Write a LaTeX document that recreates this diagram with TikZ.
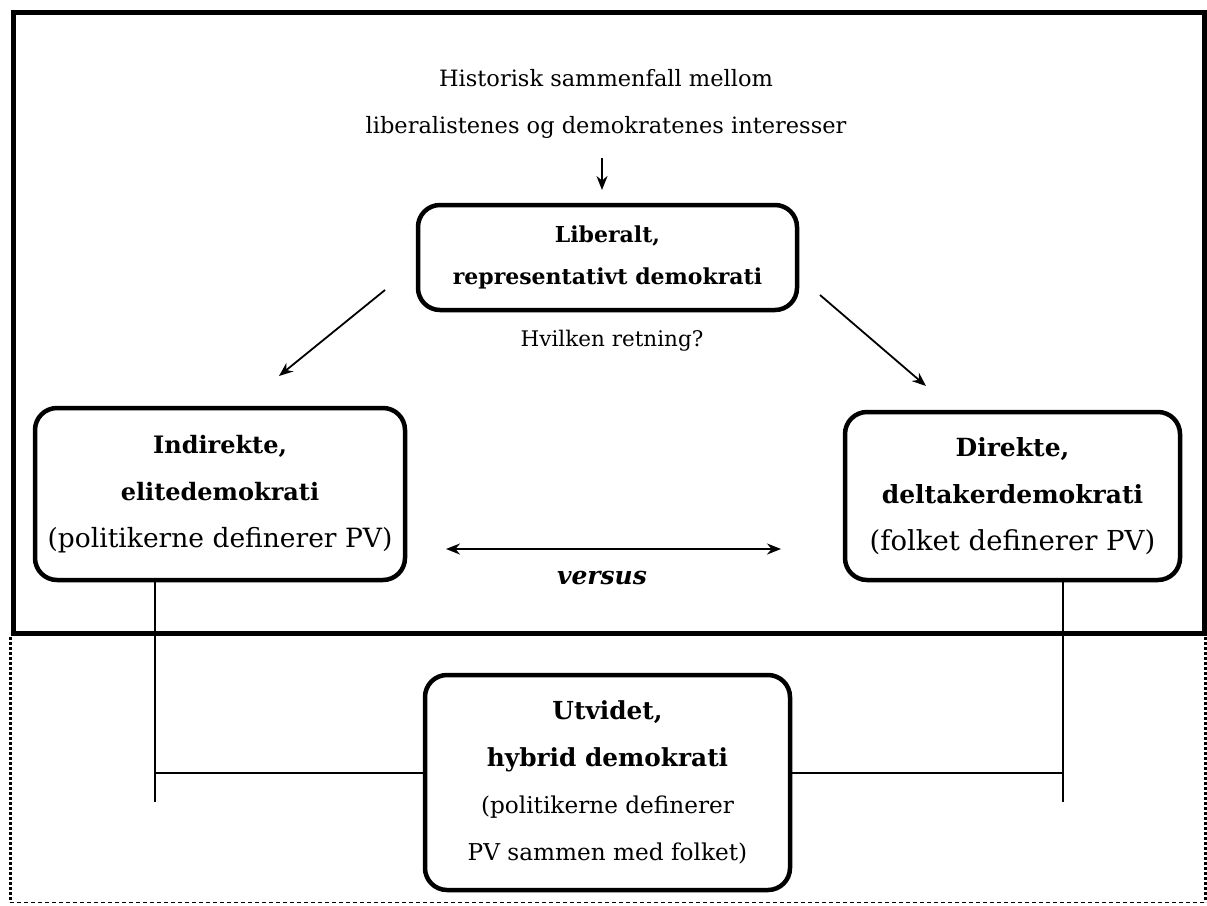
\documentclass[tikz,border=0pt]{standalone}
\usepackage{fontspec}
\setmainfont{DejaVu Serif}
\usetikzlibrary{arrows.meta}

\newcommand{\bl}[2]{{\fontsize{#1}{47}\selectfont\bfseries #2}}
\newcommand{\rl}[2]{{\fontsize{#1}{47}\selectfont #2}}

\begin{document}
\begin{tikzpicture}[x=1pt,y=-1pt]
        \tikzstyle{txt}=[font=\fontsize{21.5}{47}\selectfont, align=center, inner sep=0pt]
        \tikzstyle{box}=[txt, draw, line width=4.5pt, rounded corners=22pt]
        \tikzstyle{conn}=[line width=1.8pt]
        \tikzstyle{arr}=[conn, -{Stealth[length=14pt,width=11pt]}]

        \useasboundingbox (0,0) rectangle (1207,905);

        \draw[line width=5pt] (13,12) rectangle (1204,633);
        \draw[line width=3pt, dotted] (10,637) -- (10,902);
        \draw[line width=3pt, dotted] (1205,637) -- (1205,902);
        \draw[line width=1pt, dash pattern=on 4pt off 3pt] (10,902) -- (1205,902);

        \node[txt] (tit) at (606,104) {\rl{22.5}{Historisk sammenfall mellom}\\\rl{22.5}{liberalistenes og demokratenes interesser}};

        \node[box, minimum width=379pt, minimum height=105pt] (lib) at (607.5,257.5)
            {\bl{22}{Liberalt,}\\[-5pt]\bl{22}{representativt demokrati}};
        \node[box, minimum width=370pt, minimum height=172pt] (ind) at (220,494)
            {\bl{24}{Indirekte,}\\\bl{24}{elitedemokrati}\\\rl{26.5}{(politikerne definerer PV)}};
        \node[box, minimum width=335pt, minimum height=168pt] (dir) at (1012.5,496)
            {\bl{25}{Direkte,}\\\bl{25}{deltakerdemokrati}\\\rl{27.5}{(folket definerer PV)}};
        \node[box, minimum width=365pt, minimum height=215pt] (utv) at (607.5,782.5)
            {\bl{24.8}{Utvidet,}\\\bl{24.8}{hybrid demokrati}\\\rl{23.2}{(politikerne definerer}\\\rl{23.2}{PV sammen med folket)}};

        \node[txt] (ret) at (612,341) {Hvilken retning?};
        \node[txt] (vs) at (602,578) {\bl{25}{\itshape versus}};

        \coordinate (a1) at (602,158);
        \coordinate (a2) at (602,190);
        \coordinate (l1) at (385,290);
        \coordinate (l2) at (279,376);
        \coordinate (r1) at (820,295);
        \coordinate (r2) at (926,386);
        \coordinate (v1) at (446,549);
        \coordinate (v2) at (781,549);
        \coordinate (lt) at (155,580);
        \coordinate (lb) at (155,802);
        \coordinate (rt) at (1063,580);
        \coordinate (rb) at (1063,802);
        \coordinate (lh) at (155,773);
        \coordinate (rh) at (1063,773);

        \draw[arr] (a1) -- (a2);
        \draw[arr] (l1) -- (l2);
        \draw[arr] (r1) -- (r2);
        \draw[conn, {Stealth[length=14pt,width=11pt]}-{Stealth[length=14pt,width=11pt]}] (v1) -- (v2);

        \draw[conn] (lt) -- (lb);
        \draw[conn] (rt) -- (rb);
        \draw[conn] (lh) -- (utv.west |- lh);
        \draw[conn] (utv.east |- rh) -- (rh);
    \end{tikzpicture}
\end{document}
